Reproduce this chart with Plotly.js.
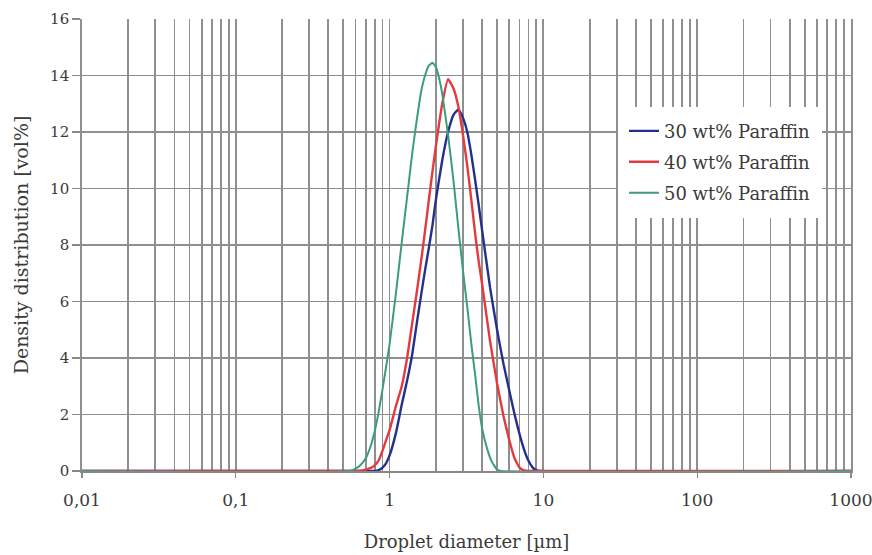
<!DOCTYPE html>
<html>
<head>
<meta charset="utf-8">
<script src="https://cdn.plot.ly/plotly-3.0.1.min.js"></script>
<style>html,body{margin:0;padding:0;background:#fff;}#chart{width:872px;height:555px;}</style>
</head>
<body>
<div id="chart"></div>
<script>
// Series names
const seriesNames = ["30 wt% Paraffin", "40 wt% Paraffin", "50 wt% Paraffin"];

// 30 wt% Paraffin (blue)
const x30 = [0.01, 0.75, 0.8, 0.85, 0.9, 0.95, 1.0, 1.1, 1.2, 1.3, 1.4, 1.5, 1.6, 1.7, 1.8, 1.9, 2.0, 2.2, 2.4, 2.6, 2.8, 3.0, 3.2, 3.4, 3.6, 3.8, 4.0, 4.5, 5.0, 5.5, 6.0, 6.5, 7.0, 7.5, 8.0, 8.5, 9.0, 9.5, 1000];
const y30 = [0, 0, 0.0, 0.03, 0.12, 0.28, 0.55, 1.35, 2.35, 3.2, 4.1, 5.2, 6.2, 7.1, 7.9, 8.7, 9.6, 11.0, 12.0, 12.6, 12.8, 12.5, 12.0, 11.2, 10.3, 9.4, 8.5, 6.5, 5.0, 3.8, 2.85, 2.0, 1.3, 0.75, 0.36, 0.13, 0.03, 0, 0];

// 40 wt% Paraffin (red)
const x40 = [0.01, 0.6, 0.65, 0.7, 0.75, 0.8, 0.85, 0.9, 0.95, 1.0, 1.1, 1.2, 1.3, 1.4, 1.5, 1.6, 1.7, 1.8, 1.9, 2.0, 2.2, 2.4, 2.6, 2.8, 3.0, 3.2, 3.4, 3.6, 3.8, 4.0, 4.5, 5.0, 5.5, 6.0, 6.5, 7.0, 7.5, 8.0, 1000];
const y40 = [0, 0, 0.01, 0.05, 0.1, 0.2, 0.38, 0.72, 1.1, 1.45, 2.3, 3.0, 4.0, 5.2, 6.3, 7.4, 8.5, 9.6, 10.6, 11.5, 13.0, 13.87, 13.55, 12.9, 11.9, 10.8, 9.6, 8.4, 7.4, 6.6, 4.6, 3.1, 1.95, 1.1, 0.45, 0.12, 0.02, 0, 0];

// 50 wt% Paraffin (green)
const x50 = [0.01, 0.55, 0.6, 0.65, 0.7, 0.75, 0.8, 0.85, 0.9, 0.95, 1.0, 1.1, 1.2, 1.3, 1.4, 1.5, 1.6, 1.7, 1.8, 1.9, 2.0, 2.1, 2.2, 2.4, 2.6, 2.8, 3.0, 3.2, 3.4, 3.6, 3.8, 4.0, 4.3, 4.6, 5.0, 5.3, 1000];
const y50 = [0, 0, 0.08, 0.22, 0.45, 0.85, 1.4, 2.1, 2.9, 3.7, 4.5, 6.3, 8.1, 9.7, 11.2, 12.4, 13.4, 14.0, 14.35, 14.45, 14.3, 13.9, 13.35, 11.9, 10.3, 8.6, 7.1, 5.8, 4.5, 3.4, 2.3, 1.5, 0.8, 0.35, 0.05, 0, 0];

// Axis ticks
const xDecades = [0.01, 0.1, 1, 10, 100, 1000];
const xDecadeLabels = ["0,01", "0,1", "1", "10", "100", "1000"];
const yTicks = [0, 2, 4, 6, 8, 10, 12, 14, 16];

// minor grid positions (2..9 times each decade)
const minorVals = [];
for (let i = 0; i < xDecades.length - 1; i++) {
  for (let m = 2; m <= 9; m++) minorVals.push(m * xDecades[i]);
}

const colors = ["#24318c", "#e23a40", "#3c9c7c"];
const widths = [2.4, 2.4, 2.0];
const xs = [x30, x40, x50];
const ys = [y30, y40, y50];

const traces = seriesNames.map((n, i) => ({
  type: "scatter", mode: "lines", name: n, x: xs[i], y: ys[i],
  legendgroup: "g" + i,
  line: {color: colors[i], width: widths[i], shape: "spline", smoothing: 0.4}
}));

const fontFam = "DejaVu Serif, Liberation Serif, serif";
const gridCol = "#8f8f8f";
const layout = {
  width: 872, height: 555,
  margin: {l: 82, r: 21, t: 19, b: 84},
  paper_bgcolor: "#fff", plot_bgcolor: "#fff",
  font: {family: fontFam, color: "#3a3a3a"},
  showlegend: true,
  legend: {
    x: 0.697, y: 0.806, xanchor: "left", yanchor: "top",
    bgcolor: "#fff", bordercolor: "#fff", borderwidth: 6,
    font: {family: fontFam, size: 18, color: "#3a3a3a"},
    itemwidth: 30, tracegroupgap: 4.5
  },
  xaxis: {
    type: "log", range: [-2, 3.0002], autorange: false,
    tickmode: "array", tickvals: xDecades, ticktext: xDecadeLabels,
    tickfont: {family: fontFam, size: 17, color: "#3a3a3a"},
    ticks: "outside", ticklen: 5, tickcolor: "#888", tickwidth: 1.2,
    ticklabelstandoff: 8, ticklabeloverflow: "allow",
    showgrid: true, gridcolor: gridCol, gridwidth: 1.8,
    minor: {tickmode: "array", tickvals: minorVals, showgrid: true, gridcolor: gridCol, gridwidth: 1.8, ticks: ""},
    showline: true, linecolor: "#888", linewidth: 1.5,
    zeroline: false, automargin: false,
    title: {text: "Droplet diameter [µm]", font: {family: fontFam, size: 18, color: "#3a3a3a"}, standoff: 26}
  },
  yaxis: {
    range: [0, 16], autorange: false,
    tickmode: "array", tickvals: yTicks,
    tickfont: {family: fontFam, size: 15, color: "#3a3a3a"},
    ticks: "outside", ticklen: 8, tickcolor: "#888", tickwidth: 1.2,
    showgrid: true, gridcolor: gridCol, gridwidth: 1.8,
    showline: true, mirror: true, linecolor: gridCol, linewidth: 1.8,
    zeroline: false, automargin: false,
    title: {text: "Density distribution [vol%]", font: {family: fontFam, size: 19, color: "#3a3a3a"}, standoff: 16}
  }
};

Plotly.newPlot("chart", traces, layout, {displayModeBar: false, staticPlot: true});
</script>
</body>
</html>
